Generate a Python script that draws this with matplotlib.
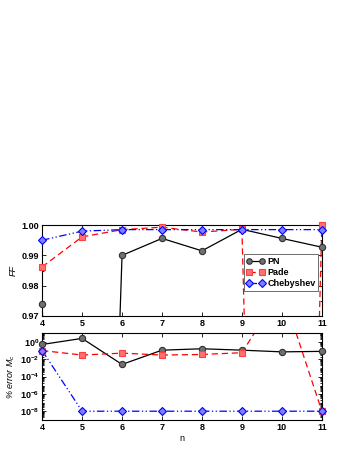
import numpy as np
from matplotlib import pyplot as plt
from matplotlib.ticker import LogLocator, NullFormatter, MultipleLocator

plt.rcParams["font.family"] = ["Liberation Sans", "DejaVu Sans"]
plt.rcParams["font.weight"] = "bold"
plt.rcParams["mathtext.default"] = "regular"

n = [4, 5, 6, 7, 8, 9, 10, 11]

# FF values
ff_pn = [0.974, 0.6, 0.990, 0.9956, 0.9915, 0.9986, 0.9956, 0.9927]
ff_pade = [0.9862, 0.9961, 0.9985, 0.9993, 0.9977, 0.9986, 0.5, 0.9999]
ff_cheb = [0.995, 0.998, 0.9985, 0.9985, 0.9985, 0.9985, 0.9985, 0.9985]

# % error of M_c
err_pn = [0.5, 2.5, 0.0025, 0.11, 0.16, 0.11, 0.07, 0.08]
err_pade = [0.1, 0.03, 0.05, 0.03, 0.035, 0.056, 1e6, 1e-8]
err_cheb = [0.1, 1e-8, 1e-8, 1e-8, 1e-8, 1e-8, 1e-8, 1e-8]

styles = [
    ("PN", dict(color="black", linestyle="-", marker="o", mfc="#707070", mec="#303030")),
    ("Pade", dict(color="red", linestyle=(0, (5, 3)), marker="s", mfc="#ff7070", mec="#ff4040")),
    ("Chebyshev", dict(color="blue", linestyle=(0, (6, 2, 1, 2, 1, 2)), marker="D", mfc="#8080ff", mec="blue")),
]

fig = plt.figure(figsize=(3.6, 4.66), dpi=100)
ax1 = fig.add_axes([0.117, 0.322, 0.777, 0.195])
ax2 = fig.add_axes([0.117, 0.099, 0.777, 0.186])

fs = 6.5


def draw(ax, x, y, label, st, lo, hi):
    x = np.array(x, float)
    y = np.array(y, float)
    ax.plot(x, y, label=label, lw=0.9, ms=4.5, mew=0.8, markevery=[], **st)
    keep = (y >= lo) & (y <= hi)
    mk = dict(st)
    mk["linestyle"] = "none"
    ax.plot(x[keep], y[keep], ms=4.5, mew=0.8, clip_on=False, zorder=3, **mk)


for (label, st), y in zip(styles, [ff_pn, ff_pade, ff_cheb]):
    draw(ax1, n, y, label, st, 0.97, 1.0)
for (label, st), y in zip(styles, [err_pn, err_pade, err_cheb]):
    draw(ax2, n, y, label, st, 1e-9, 10)

ax1.set_xlim(4, 11)
ax1.set_ylim(0.97, 1.0)
ax1.yaxis.set_major_locator(MultipleLocator(0.01))
ax1.yaxis.set_minor_locator(MultipleLocator(0.005))
ax1.set_yticklabels(["%.2f" % v for v in ax1.get_yticks()])
ax1.set_ylabel("FF", fontsize=fs, style="italic", labelpad=3)

ax2.set_xlim(4, 11)
ax2.set_yscale("log")
ax2.yaxis.set_minor_locator(LogLocator(base=10, subs=np.arange(2, 10), numticks=20))
ax2.yaxis.set_minor_formatter(NullFormatter())
ax2.set_yticks([1e-8, 1e-6, 1e-4, 1e-2, 1])
ax2.set_ylim(1e-9, 10)
ax2.set_ylabel("% error $M_c$", fontsize=fs, style="italic", labelpad=2)
ax2.set_xlabel("n", fontsize=fs, labelpad=2)

for ax in (ax1, ax2):
    ax.set_xticks(n)
    ax.tick_params(which="both", direction="in", top=True, right=True, labelsize=fs, pad=2)
    ax.tick_params(which="major", length=3, width=0.6)
    ax.tick_params(which="minor", length=1.5, width=0.6)
    for sp in ax.spines.values():
        sp.set_linewidth(0.8)

# legend handles show markers at both ends
handles = []
for label, st in styles:
    h, = ax1.plot([], [], lw=0.9, ms=4, mew=0.8, **st)
    handles.append(h)
leg = ax1.legend(handles, [s[0] for s in styles], loc="lower right",
                 bbox_to_anchor=(0.985, 0.28), fontsize=fs, numpoints=2,
                 fancybox=False, edgecolor="#555555", framealpha=1,
                 handlelength=2.0, borderpad=0.25, labelspacing=0.25,
                 handletextpad=0.3, borderaxespad=0)
leg.get_frame().set_linewidth(0.6)

plt.savefig("out.png", dpi=100)
